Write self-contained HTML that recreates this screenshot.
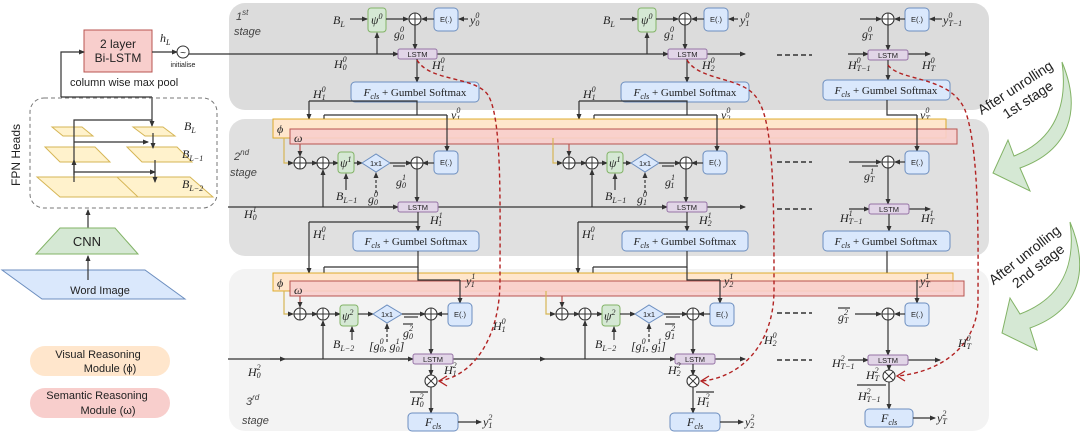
<!DOCTYPE html>
<html><head><meta charset="utf-8"><style>
body{margin:0;background:#fff}
svg{display:block}
text{font-family:"Liberation Sans",sans-serif;fill:#222}
.m{font-family:"Liberation Serif",serif;font-style:italic;font-size:12px}
.s{font-size:8px}
.sf{font-family:"Liberation Serif",serif;font-size:11px}
.b{font-size:7.5px;text-anchor:middle}
.st{font-style:italic;font-size:11px;fill:#444}
.ln{stroke:#333;stroke-width:1.2;fill:none}
.ar{stroke:#333;stroke-width:1.2;fill:none;marker-end:url(#a)}
.ps{fill:#d5e8d4;stroke:#82b366}
.e{fill:#dae8fc;stroke:#6c8ebf}
.ls{fill:#e1d5e7;stroke:#9673a6}
.pl{fill:#fff;stroke:#333;stroke-width:1.1}
.rd{stroke:#b22222;stroke-width:1.4;fill:none;stroke-dasharray:4,3}
.pa{fill:#fff2cc;stroke:#d6b656}
</style></head><body>
<svg width="1080" height="433" viewBox="0 0 1080 433" xmlns="http://www.w3.org/2000/svg">
<defs>
<marker id="a" markerWidth="6" markerHeight="6" refX="5" refY="3" orient="auto" markerUnits="userSpaceOnUse"><path d="M0,0.5 L6,3 L0,5.5 Z" fill="#333"/></marker>
<g id="plus"><circle r="6" class="pl"/><path d="M-6,0H6M0,-6V6" stroke="#333" stroke-width="1"/></g>
<g id="otimes"><circle r="6" class="pl"/><path d="M-4.2,-4.2L4.2,4.2M4.2,-4.2L-4.2,4.2" stroke="#333" stroke-width="1"/></g>
</defs>

<!-- stage panels -->
<rect x="229" y="3" width="760" height="107" rx="16" fill="#dcdcdc"/>
<rect x="229" y="119" width="760" height="137" rx="16" fill="#e0e0e0"/>
<rect x="229" y="269" width="760" height="162" rx="16" fill="#f3f3f3"/>
<text class="st" x="236" y="20">1<tspan font-size="8" dy="-5">st</tspan></text>
<text class="st" x="234" y="35">stage</text>
<text class="st" x="234" y="160">2<tspan font-size="8" dy="-5">nd</tspan></text>
<text class="st" x="230" y="176">stage</text>
<text class="st" x="246" y="405">3<tspan font-size="8" dy="-5">rd</tspan></text>
<text class="st" x="242" y="424">stage</text>

<!-- LEFT -->
<rect x="84" y="30" width="68" height="42" fill="#f8cecc" stroke="#b85450"/>
<text x="118" y="48" font-size="12" text-anchor="middle">2 layer</text>
<text x="118" y="62" font-size="12" text-anchor="middle">Bi-LSTM</text>
<text class="m" x="160" y="42">h<tspan class="s" dy="3">L</tspan></text>
<line class="ar" x1="152" y1="52" x2="177" y2="52"/>
<circle cx="183" cy="52" r="6" fill="#fff" stroke="#333"/>
<text x="183" y="56" font-size="10" text-anchor="middle">~</text>
<text x="183" y="67" font-size="7" text-anchor="middle" fill="#555">initialise</text>
<text x="70" y="86" font-size="11">column wise max pool</text>
<path class="ar" d="M61,97 V52 H84"/>
<line class="ln" x1="61" y1="97" x2="152" y2="97"/>
<line class="ar" x1="152" y1="97" x2="152" y2="126"/>
<rect x="30" y="98" width="187" height="110" rx="14" fill="none" stroke="#777" stroke-dasharray="4,3"/>
<text x="20" y="155" font-size="12" transform="rotate(-90 20 155)" text-anchor="middle">FPN Heads</text>
<polygon class="pa" points="52,127 82,127 93,136 63,136"/>
<polygon class="pa" points="133,127 163,127 175,136 145,136"/>
<polygon class="pa" points="45,147 95,147 110,162 60,162"/>
<polygon class="pa" points="127,147 177,147 192,162 142,162"/>
<polygon class="pa" points="37,177 118,177 142,197 60,197"/>
<polygon class="pa" points="117,177 190,177 213,197 138,197"/>
<path class="ln" d="M74,182 V120 H152"/>
<line class="ar" x1="74" y1="142" x2="148" y2="142"/>
<line class="ar" x1="74" y1="172" x2="155" y2="172"/>
<line class="ar" x1="74" y1="175" x2="74" y2="160"/>
<line class="ar" x1="153" y1="133" x2="153" y2="148"/>
<line class="ar" x1="155" y1="160" x2="155" y2="182"/>
<text class="m" x="184" y="130">B<tspan class="s" dy="3">L</tspan></text>
<text class="m" x="182" y="158">B<tspan class="s" dy="3">L−1</tspan></text>
<text class="m" x="182" y="188" fill="#aaa">B<tspan class="s" dy="3">L−2</tspan></text>
<line class="ar" x1="88" y1="228" x2="88" y2="210"/>
<polygon points="60,228 115,228 138,254 36,254" fill="#d5e8d4" stroke="#82b366"/>
<text x="87" y="246" font-size="13" text-anchor="middle">CNN</text>
<polygon points="2,270 145,270 185,299 42,299" fill="#dae8fc" stroke="#6c8ebf"/>
<line class="ar" x1="88" y1="280" x2="88" y2="256"/>
<text x="100" y="294" font-size="11" text-anchor="middle">Word Image</text>
<rect x="30" y="346" width="140" height="30" rx="15" fill="#ffe6cc"/>
<text x="98" y="358" font-size="11" text-anchor="middle">Visual Reasoning</text>
<text x="110" y="372" font-size="11" text-anchor="middle">Module (ϕ)</text>
<rect x="30" y="388" width="140" height="30" rx="15" fill="#f8cecc"/>
<text x="97" y="399" font-size="11" text-anchor="middle">Semantic Reasoning</text>
<text x="108" y="414" font-size="11" text-anchor="middle">Module (ω)</text>

<!-- STAGE 1 main line -->
<line class="ln" x1="189" y1="54" x2="398" y2="54"/>
<polyline class="ar" points="390,54 398,54"/>
<line class="ar" x1="437" y1="54" x2="668" y2="54"/>
<line class="ar" x1="707" y1="54" x2="745" y2="54"/>
<line class="ar" x1="848" y1="54" x2="868" y2="54"/>
<line class="ar" x1="908" y1="54" x2="930" y2="54"/>
<line x1="777" y1="55" x2="812" y2="55" stroke="#333" stroke-width="1.5" stroke-dasharray="5,3"/>

<!-- stage1 col block -->
<g id="s1">
<line class="ar" x1="350" y1="19" x2="367" y2="19"/>
<rect class="ps" x="368" y="8" width="18" height="24" rx="3"/>
<text class="m" x="371" y="24">ψ<tspan class="s" dy="-5">0</tspan></text>
<line class="ar" x1="386" y1="19" x2="408" y2="19"/>
<use href="#plus" x="415" y="19"/>
<rect class="e" x="434" y="8" width="24" height="23" rx="4"/>
<text class="b" x="446" y="22">E(.)</text>
<line class="ar" x1="434" y1="19" x2="422" y2="19"/>
<line class="ar" x1="468" y1="19" x2="459" y2="19"/>
<line class="ar" x1="377" y1="54" x2="377" y2="33"/>
<line class="ar" x1="415" y1="25" x2="415" y2="49"/>
<rect class="ls" x="398" y="49" width="39" height="10" rx="2"/>
<text class="b" x="417.5" y="57">LSTM</text>
<line class="ar" x1="417" y1="59" x2="417" y2="82"/>
<rect class="e" x="351" y="82" width="128" height="20" rx="4"/>
<text class="sf" x="415" y="96" text-anchor="middle"><tspan font-style="italic">F<tspan font-size="8" dy="3">cls</tspan></tspan><tspan dy="-3"> + Gumbel Softmax</tspan></text>
<path class="ln" d="M309,101 H417 V115"/>
<line class="ar" x1="309" y1="101" x2="309" y2="119"/>
<line class="ln" x1="324" y1="115" x2="447" y2="115"/>
<line class="ar" x1="324" y1="115" x2="324" y2="129"/>
<line class="ar" x1="447" y1="115" x2="447" y2="151"/>
</g>
<use href="#s1" x="270" y="0"/>
<text class="m" x="333" y="24">B<tspan class="s" dy="3">L</tspan></text>
<text class="m" x="470" y="24">y<tspan class="s" dy="-6">0</tspan><tspan class="s" dx="-4" dy="8">0</tspan></text>
<text class="m" x="394" y="38">g<tspan class="s" dy="-6">0</tspan><tspan class="s" dx="-4" dy="8">0</tspan></text>
<text class="m" x="334" y="68">H<tspan class="s" dy="-6">0</tspan><tspan class="s" dx="-4" dy="8">0</tspan></text>
<text class="m" x="432" y="69">H<tspan class="s" dy="-6">0</tspan><tspan class="s" dx="-4" dy="8">1</tspan></text>
<text class="m" x="313" y="98">H<tspan class="s" dy="-6">0</tspan><tspan class="s" dx="-4" dy="8">1</tspan></text>
<text class="m" x="451" y="119">y<tspan class="s" dy="-6">0</tspan><tspan class="s" dx="-4" dy="8">1</tspan></text>
<text class="m" x="603" y="24">B<tspan class="s" dy="3">L</tspan></text>
<text class="m" x="740" y="24">y<tspan class="s" dy="-6">0</tspan><tspan class="s" dx="-4" dy="8">1</tspan></text>
<text class="m" x="664" y="38">g<tspan class="s" dy="-6">0</tspan><tspan class="s" dx="-4" dy="8">1</tspan></text>
<text class="m" x="702" y="69">H<tspan class="s" dy="-6">0</tspan><tspan class="s" dx="-4" dy="8">2</tspan></text>
<text class="m" x="583" y="98">H<tspan class="s" dy="-6">0</tspan><tspan class="s" dx="-4" dy="8">1</tspan></text>
<text class="m" x="721" y="119">y<tspan class="s" dy="-6">0</tspan><tspan class="s" dx="-4" dy="8">2</tspan></text>

<!-- stage1 col3 -->
<line class="ar" x1="860" y1="19" x2="881" y2="19"/>
<use href="#plus" x="888" y="19"/>
<rect class="e" x="905" y="8" width="24" height="23" rx="4"/>
<text class="b" x="917" y="22">E(.)</text>
<line class="ar" x1="905" y1="19" x2="895" y2="19"/>
<line class="ar" x1="942" y1="19" x2="930" y2="19"/>
<text class="m" x="943" y="24">y<tspan class="s" dy="-6">0</tspan><tspan class="s" dx="-4" dy="8">T−1</tspan></text>
<text class="m" x="862" y="38">g<tspan class="s" dy="-6">0</tspan><tspan class="s" dx="-4" dy="8">T</tspan></text>
<line class="ar" x1="888" y1="25" x2="888" y2="50"/>
<rect class="ls" x="868" y="50" width="40" height="10" rx="2"/>
<text class="b" x="888" y="58">LSTM</text>
<text class="m" x="848" y="69">H<tspan class="s" dy="-6">0</tspan><tspan class="s" dx="-4" dy="8">T−1</tspan></text>
<text class="m" x="922" y="69">H<tspan class="s" dy="-6">0</tspan><tspan class="s" dx="-4" dy="8">T</tspan></text>
<line class="ar" x1="888" y1="60" x2="888" y2="80"/>
<rect class="e" x="823" y="80" width="127" height="20" rx="4"/>
<text class="sf" x="886" y="94" text-anchor="middle"><tspan font-style="italic">F<tspan font-size="8" dy="3">cls</tspan></tspan><tspan dy="-3"> + Gumbel Softmax</tspan></text>
<path class="ln" d="M887,100 V115 H917"/>
<line class="ar" x1="917" y1="115" x2="917" y2="151"/>
<text class="m" x="920" y="119">y<tspan class="s" dy="-6">0</tspan><tspan class="s" dx="-4" dy="8">T</tspan></text>

<!-- STAGE 2 bars -->
<rect x="273" y="119" width="673" height="19" fill="#ffe6cc" stroke="#d79b00" stroke-opacity=".8"/>
<rect x="290" y="129" width="667" height="15" fill="#f8cecc" stroke="#b85450" fill-opacity=".9"/>
<text class="m" x="277" y="133">ϕ</text>
<text class="m" x="294" y="142" font-size="10">ω</text>
<!-- re-draw verticals over bars -->
<line class="ar" x1="447" y1="115" x2="447" y2="151"/>
<line class="ar" x1="717" y1="115" x2="717" y2="151"/>
<line class="ar" x1="917" y1="115" x2="917" y2="151"/>

<line class="ln" x1="228" y1="207" x2="398" y2="207"/>
<line class="ar" x1="380" y1="207" x2="398" y2="207"/>
<line class="ar" x1="438" y1="207" x2="667" y2="207"/>
<line class="ar" x1="707" y1="207" x2="745" y2="207"/>
<line class="ar" x1="849" y1="209" x2="869" y2="209"/>
<line class="ar" x1="909" y1="209" x2="930" y2="209"/>
<line x1="777" y1="162" x2="812" y2="162" stroke="#333" stroke-width="1.5" stroke-dasharray="5,3"/>
<line x1="777" y1="209" x2="812" y2="209" stroke="#333" stroke-width="1.5" stroke-dasharray="5,3"/>

<g id="s2">
<path d="M284,138 V163 H293" fill="none" stroke="#d6b656" stroke-width="1.2" marker-end="url(#a)"/>
<line x1="300" y1="144" x2="300" y2="156" stroke="#b85450" stroke-width="1.2" marker-end="url(#a)"/>
<use href="#plus" x="300" y="163"/>
<line class="ar" x1="306" y1="163" x2="317" y2="163"/>
<use href="#plus" x="323" y="163"/>
<line class="ar" x1="329" y1="163" x2="338" y2="163"/>
<rect class="ps" x="338" y="152" width="16" height="21" rx="3"/>
<text class="m" x="340" y="167">ψ<tspan class="s" dy="-5">1</tspan></text>
<line class="ar" x1="354" y1="163" x2="362" y2="163"/>
<polygon class="e" points="362,163 376,154 390,163 376,172"/>
<text class="b" x="376" y="166" font-size="7">1x1</text>
<line class="ar" x1="390" y1="163" x2="411" y2="163"/>
<line class="ln" x1="393" y1="166" x2="405" y2="166"/>
<use href="#plus" x="417" y="163"/>
<rect class="e" x="434" y="151" width="24" height="23" rx="4"/>
<text class="b" x="446" y="165">E(.)</text>
<line class="ar" x1="434" y1="163" x2="423" y2="163"/>
<line class="ar" x1="346" y1="190" x2="346" y2="174"/>
<line class="ar" x1="376" y1="193" x2="376" y2="173" stroke-dasharray="3,2"/>
<line class="ar" x1="323" y1="207" x2="323" y2="170"/>
<line class="ar" x1="417" y1="169" x2="417" y2="202"/>
<rect class="ls" x="398" y="202" width="40" height="10" rx="2"/>
<text class="b" x="418" y="210">LSTM</text>
<line class="ar" x1="418" y1="212" x2="418" y2="231"/>
<rect class="e" x="353" y="231" width="126" height="20" rx="4"/>
<text class="sf" x="416" y="245" text-anchor="middle"><tspan font-style="italic">F<tspan font-size="8" dy="3">cls</tspan></tspan><tspan dy="-3"> + Gumbel Softmax</tspan></text>
<line class="ln" x1="309" y1="222" x2="418" y2="222"/>
<line class="ar" x1="309" y1="222" x2="309" y2="273"/>
<path class="ln" d="M418,251 V267 H324"/>
<line class="ar" x1="324" y1="267" x2="324" y2="282"/>
</g>
<use href="#s2" x="269" y="0"/>
<text class="m" x="396" y="186">g<tspan class="s" dy="-6">1</tspan><tspan class="s" dx="-4" dy="8">0</tspan></text>
<text class="m" x="336" y="200">B<tspan class="s" dy="3">L−1</tspan></text>
<text class="m" x="368" y="203">g<tspan class="s" dy="-6">0</tspan><tspan class="s" dx="-4" dy="8">0</tspan></text>
<text class="m" x="244" y="218">H<tspan class="s" dy="-6">1</tspan><tspan class="s" dx="-4" dy="8">0</tspan></text>
<text class="m" x="430" y="224">H<tspan class="s" dy="-6">1</tspan><tspan class="s" dx="-4" dy="8">1</tspan></text>
<text class="m" x="313" y="238">H<tspan class="s" dy="-6">0</tspan><tspan class="s" dx="-4" dy="8">1</tspan></text>
<text class="m" x="665" y="186">g<tspan class="s" dy="-6">1</tspan><tspan class="s" dx="-4" dy="8">1</tspan></text>
<text class="m" x="605" y="200">B<tspan class="s" dy="3">L−1</tspan></text>
<text class="m" x="637" y="203">g<tspan class="s" dy="-6">0</tspan><tspan class="s" dx="-4" dy="8">1</tspan></text>
<text class="m" x="699" y="224">H<tspan class="s" dy="-6">1</tspan><tspan class="s" dx="-4" dy="8">2</tspan></text>
<text class="m" x="582" y="238">H<tspan class="s" dy="-6">0</tspan><tspan class="s" dx="-4" dy="8">1</tspan></text>

<!-- stage2 col3 -->
<line class="ar" x1="849" y1="162" x2="881" y2="162"/>
<line class="ln" x1="862" y1="166" x2="878" y2="166"/>
<use href="#plus" x="888" y="162"/>
<rect class="e" x="905" y="151" width="24" height="23" rx="4"/>
<text class="b" x="917" y="165">E(.)</text>
<line class="ar" x1="905" y1="162" x2="895" y2="162"/>
<text class="m" x="864" y="180">g<tspan class="s" dy="-6">1</tspan><tspan class="s" dx="-4" dy="8">T</tspan></text>
<line class="ar" x1="888" y1="168" x2="888" y2="204"/>
<rect class="ls" x="869" y="204" width="40" height="10" rx="2"/>
<text class="b" x="889" y="212">LSTM</text>
<text class="m" x="840" y="222">H<tspan class="s" dy="-6">1</tspan><tspan class="s" dx="-4" dy="8">T−1</tspan></text>
<text class="m" x="921" y="222">H<tspan class="s" dy="-6">1</tspan><tspan class="s" dx="-4" dy="8">T</tspan></text>
<line class="ar" x1="889" y1="214" x2="889" y2="231"/>
<rect class="e" x="823" y="231" width="127" height="20" rx="4"/>
<text class="sf" x="886" y="245" text-anchor="middle"><tspan font-style="italic">F<tspan font-size="8" dy="3">cls</tspan></tspan><tspan dy="-3"> + Gumbel Softmax</tspan></text>
<path class="ln" d="M887,251 V280 H917"/>

<!-- STAGE 3 bars -->
<rect x="273" y="273" width="680" height="18" fill="#ffe6cc" stroke="#d79b00" stroke-opacity=".8"/>
<rect x="290" y="281" width="674" height="15" fill="#f8cecc" stroke="#b85450" fill-opacity=".9"/>
<text class="m" x="277" y="287">ϕ</text>
<text class="m" x="294" y="294" font-size="10">ω</text>
<path class="ln" d="M418,267 V280 H460"/>
<line class="ar" x1="460" y1="280" x2="460" y2="303"/>
<path class="ln" d="M687,267 V280 H720"/>
<line class="ar" x1="720" y1="280" x2="720" y2="303"/>
<line class="ar" x1="917" y1="280" x2="917" y2="303"/>
<text class="m" x="466" y="285">y<tspan class="s" dy="-6">1</tspan><tspan class="s" dx="-4" dy="8">1</tspan></text>
<text class="m" x="724" y="285">y<tspan class="s" dy="-6">1</tspan><tspan class="s" dx="-4" dy="8">2</tspan></text>
<text class="m" x="920" y="285">y<tspan class="s" dy="-6">1</tspan><tspan class="s" dx="-4" dy="8">T</tspan></text>

<line class="ln" x1="228" y1="359" x2="413" y2="359"/>
<line class="ar" x1="270" y1="359" x2="285" y2="359"/>
<line class="ar" x1="400" y1="359" x2="413" y2="359"/>
<line class="ln" x1="453" y1="359" x2="675" y2="359"/>
<line class="ar" x1="530" y1="359" x2="545" y2="359"/>
<line class="ar" x1="660" y1="359" x2="675" y2="359"/>
<line class="ar" x1="715" y1="359" x2="745" y2="359"/>
<line class="ar" x1="848" y1="360" x2="868" y2="360"/>
<line class="ar" x1="908" y1="360" x2="940" y2="360"/>
<line x1="777" y1="313" x2="812" y2="313" stroke="#333" stroke-width="1.5" stroke-dasharray="5,3"/>
<line x1="777" y1="360" x2="812" y2="360" stroke="#333" stroke-width="1.5" stroke-dasharray="5,3"/>

<g id="s3">
<path d="M284,291 V314 H293" fill="none" stroke="#d6b656" stroke-width="1.2" marker-end="url(#a)"/>
<line x1="300" y1="296" x2="300" y2="307" stroke="#b85450" stroke-width="1.2" marker-end="url(#a)"/>
<use href="#plus" x="300" y="314"/>
<line class="ar" x1="306" y1="314" x2="317" y2="314"/>
<use href="#plus" x="323" y="314"/>
<line class="ar" x1="329" y1="314" x2="340" y2="314"/>
<rect class="ps" x="340" y="305" width="18" height="21" rx="3"/>
<text class="m" x="342" y="320">ψ<tspan class="s" dy="-5">2</tspan></text>
<line class="ar" x1="358" y1="314" x2="373" y2="314"/>
<polygon class="e" points="373,314 387,305 402,314 387,323"/>
<text class="b" x="387" y="317" font-size="7">1x1</text>
<line class="ar" x1="402" y1="314" x2="425" y2="314"/>
<line class="ln" x1="404" y1="317" x2="418" y2="317"/>
<use href="#plus" x="431" y="314"/>
<rect class="e" x="448" y="303" width="24" height="23" rx="4"/>
<text class="b" x="460" y="317">E(.)</text>
<line class="ar" x1="448" y1="314" x2="437" y2="314"/>
<line class="ar" x1="352" y1="340" x2="352" y2="327"/>
<line class="ar" x1="387" y1="342" x2="387" y2="324" stroke-dasharray="3,2"/>
<line class="ar" x1="323" y1="359" x2="323" y2="321"/>
<line class="ar" x1="431" y1="320" x2="431" y2="354"/>
<rect class="ls" x="413" y="354" width="40" height="10" rx="2"/>
<text class="b" x="433" y="362">LSTM</text>
<line class="ar" x1="431" y1="364" x2="431" y2="375"/>
<use href="#otimes" x="431" y="381"/>
<line class="ar" x1="431" y1="387" x2="431" y2="413"/>
<rect class="e" x="408" y="413" width="50" height="18" rx="4"/>
<text class="m" x="425" y="426">F<tspan class="s" dy="3">cls</tspan></text>
<line class="ar" x1="458" y1="422" x2="481" y2="422"/>
</g>
<use href="#s3" x="262" y="0"/>
<text class="m" x="403" y="337">g<tspan class="s" dy="-6">2</tspan><tspan class="s" dx="-4" dy="8">0</tspan></text>
<line class="ln" x1="403" y1="324" x2="413" y2="324" stroke-width=".8"/>
<text class="m" x="333" y="348">B<tspan class="s" dy="3">L−2</tspan></text>
<text class="m" x="369" y="350" font-size="11">[g<tspan class="s" dy="-6">0</tspan><tspan class="s" dx="-4" dy="8">0</tspan><tspan dy="-2">, g</tspan><tspan class="s" dy="-6">1</tspan><tspan class="s" dx="-4" dy="8">0</tspan><tspan dy="-2">]</tspan></text>
<text class="m" x="248" y="376">H<tspan class="s" dy="-6">2</tspan><tspan class="s" dx="-4" dy="8">0</tspan></text>
<text class="m" x="444" y="374">H<tspan class="s" dy="-6">2</tspan><tspan class="s" dx="-4" dy="8">1</tspan></text>
<text class="m" x="411" y="405">H<tspan class="s" dy="-6">2</tspan><tspan class="s" dx="-4" dy="8">0</tspan></text>
<line class="ln" x1="410" y1="392" x2="428" y2="392" stroke-width=".8"/>
<text class="m" x="483" y="426">y<tspan class="s" dy="-6">2</tspan><tspan class="s" dx="-4" dy="8">1</tspan></text>
<text class="m" x="665" y="337">g<tspan class="s" dy="-6">2</tspan><tspan class="s" dx="-4" dy="8">1</tspan></text>
<line class="ln" x1="665" y1="324" x2="675" y2="324" stroke-width=".8"/>
<text class="m" x="595" y="348">B<tspan class="s" dy="3">L−2</tspan></text>
<text class="m" x="631" y="350" font-size="11">[g<tspan class="s" dy="-6">0</tspan><tspan class="s" dx="-4" dy="8">1</tspan><tspan dy="-2">, g</tspan><tspan class="s" dy="-6">1</tspan><tspan class="s" dx="-4" dy="8">1</tspan><tspan dy="-2">]</tspan></text>
<text class="m" x="668" y="374">H<tspan class="s" dy="-6">2</tspan><tspan class="s" dx="-4" dy="8">2</tspan></text>
<text class="m" x="697" y="405">H<tspan class="s" dy="-6">2</tspan><tspan class="s" dx="-4" dy="8">1</tspan></text>
<line class="ln" x1="696" y1="392" x2="714" y2="392" stroke-width=".8"/>
<text class="m" x="745" y="426">y<tspan class="s" dy="-6">2</tspan><tspan class="s" dx="-4" dy="8">2</tspan></text>

<!-- stage3 col3 -->
<line class="ar" x1="855" y1="314" x2="881" y2="314"/>
<text class="m" x="838" y="321">g<tspan class="s" dy="-6">2</tspan><tspan class="s" dx="-4" dy="8">T</tspan></text>
<line class="ln" x1="838" y1="308" x2="850" y2="308" stroke-width=".8"/>
<use href="#plus" x="888" y="314"/>
<rect class="e" x="905" y="303" width="24" height="23" rx="4"/>
<text class="b" x="917" y="317">E(.)</text>
<line class="ar" x1="905" y1="314" x2="895" y2="314"/>
<line class="ar" x1="888" y1="320" x2="888" y2="355"/>
<rect class="ls" x="868" y="355" width="40" height="10" rx="2"/>
<text class="b" x="888" y="363">LSTM</text>
<text class="m" x="832" y="367">H<tspan class="s" dy="-6">2</tspan><tspan class="s" dx="-4" dy="8">T−1</tspan></text>
<text class="m" x="866" y="379">H<tspan class="s" dy="-6">2</tspan><tspan class="s" dx="-4" dy="8">T</tspan></text>
<line class="ar" x1="889" y1="365" x2="889" y2="370"/>
<use href="#otimes" x="889" y="376"/>
<line class="ar" x1="889" y1="382" x2="889" y2="409"/>
<text class="m" x="858" y="400">H<tspan class="s" dy="-6">2</tspan><tspan class="s" dx="-4" dy="8">T−1</tspan></text>
<line class="ln" x1="857" y1="385" x2="886" y2="385" stroke-width=".8"/>
<rect class="e" x="865" y="409" width="48" height="18" rx="4"/>
<text class="m" x="881" y="422">F<tspan class="s" dy="3">cls</tspan></text>
<line class="ar" x1="913" y1="418" x2="935" y2="418"/>
<text class="m" x="937" y="422">y<tspan class="s" dy="-6">2</tspan><tspan class="s" dx="-4" dy="8">T</tspan></text>

<!-- red dashed curves -->
<path class="rd" d="M417,60 C430,82 475,76 488,95 C502,118 500,200 500,280 C500,340 472,376 439,381"/>
<path class="rd" d="M687,60 C700,82 745,76 758,100 C774,125 774,200 774,290 C774,345 740,378 701,381"/>
<path class="rd" d="M888,65 C900,82 950,75 965,110 C980,150 978,250 978,300 C978,345 942,372 897,376"/>
<path d="M447,376 L439,381 L447,386" stroke="#b22222" stroke-width="1.3" fill="none"/>
<path d="M709,376 L701,381 L709,386" stroke="#b22222" stroke-width="1.3" fill="none"/>
<path d="M905,371 L897,376 L905,381" stroke="#b22222" stroke-width="1.3" fill="none"/>
<text class="m" x="493" y="330">H<tspan class="s" dy="-6">0</tspan><tspan class="s" dx="-4" dy="8">1</tspan></text>
<text class="m" x="764" y="344">H<tspan class="s" dy="-6">0</tspan><tspan class="s" dx="-4" dy="8">2</tspan></text>
<text class="m" x="958" y="347">H<tspan class="s" dy="-6">0</tspan><tspan class="s" dx="-4" dy="8">T</tspan></text>

<!-- green arrows -->
<path d="M1062,62 C1082,110 1070,150 1020,168 L1030,191 L993,173 L1008,140 L1014,156 C1055,140 1068,105 1062,62 Z" fill="#d5e8d4" stroke="#82b366"/>
<path d="M1070,222 C1090,270 1080,310 1030,328 L1037,350 L1002,333 L1010,298 L1020,314 C1062,298 1076,265 1070,222 Z" fill="#d5e8d4" stroke="#82b366"/>
<g transform="translate(1020,95) rotate(-33)">
<text x="0" y="-4" font-size="14" text-anchor="middle">After unrolling</text>
<text x="4" y="13" font-size="14" text-anchor="middle">1st stage</text>
</g>
<g transform="translate(1030,262) rotate(-38)">
<text x="0" y="-4" font-size="14" text-anchor="middle">After unrolling</text>
<text x="4" y="13" font-size="14" text-anchor="middle">2nd stage</text>
</g>
</svg>
</body></html>
